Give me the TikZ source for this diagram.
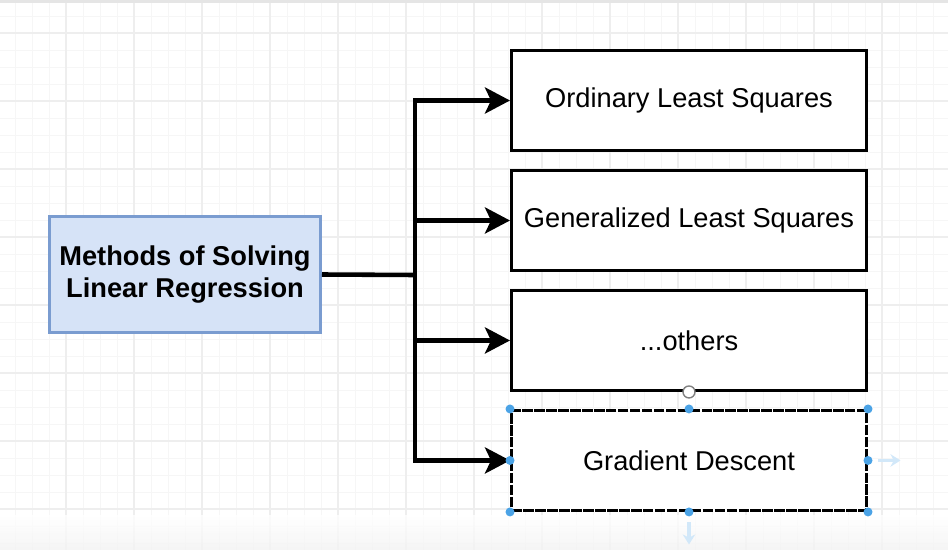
\documentclass[tikz,border=0pt]{standalone}
\usepackage{fontspec}
\setmainfont{Liberation Sans}
\usepackage{tikz}
\usetikzlibrary{positioning, arrows.meta}

\definecolor{gridminor}{HTML}{F6F6F6}
\definecolor{gridmajor}{HTML}{EEEEEE}
\definecolor{methodfill}{HTML}{D6E3F7}
\definecolor{methodline}{HTML}{7A9CD0}
\definecolor{handleblue}{HTML}{4BA3E6}

\begin{document}
\begin{tikzpicture}[
    node distance=0.34cm,
    method/.style={rectangle, draw=methodline, fill=methodfill, line width=1.7pt, minimum width=5.42cm, minimum height=2.32cm, align=center, font=\fontsize{15.5}{18.2}\selectfont\bfseries},
    box/.style={rectangle, draw, fill=white, line width=1.7pt, minimum width=7.1cm, minimum height=2.0cm, align=center, font=\fontsize{15.5}{18.2}\selectfont},
    arr/.style={-{Stealth[length=0.5cm, width=0.52cm, inset=0.12cm]}, line width=2.6pt},
    handle/.style={circle, fill=handleblue, inner sep=0pt, minimum size=0.18cm}
]
    \useasboundingbox (0,0) rectangle (18.96,-11);

    % canvas
    \begin{scope}
        \clip (0,0) rectangle (18.96,-11);
        \draw[gridminor, line width=0.4pt, shift={(1.32,-0.66)}] (-1.36,-11.56) grid[step=0.34cm] (17.68,0.68);
        \draw[gridmajor, line width=0.6pt, shift={(1.32,-0.66)}] (-1.36,-11.56) grid[step=1.36cm] (17.68,0.68);
        \fill[gray!20] (0,0) rectangle (18.96,-0.06);
        \shade[top color=white, bottom color=gray!10, opacity=0.8] (0,-10.3) rectangle (18.96,-11);
    \end{scope}

    \node[method] (methods) at (3.7,-5.49) {Methods of Solving\\Linear Regression};
    \node[box] (ols) at (13.78,-2.01) {Ordinary Least Squares};
    \node[box, below=of ols] (gls) {Generalized Least Squares};
    \node[box, below=of gls] (others) {...others};
    \node[box, below=of others, dash pattern=on 6pt off 0.8pt] (gd) {Gradient Descent};

    \coordinate (fork) at (8.3,-5.5);

    \draw[line width=2.6pt] (methods.east) -- (fork);
    \foreach \target in {ols, gls, others, gd}
        \draw[arr] (fork) |- (\target.west);

    % selection handles
    \foreach \corner in {north west, north, north east, east, south east, south, south west, west}
        \node[handle] at (gd.\corner) {};
    \draw[gray, fill=white, line width=0.8pt] (others.south) circle (0.12cm);
    \draw[handleblue!25, -{Stealth[length=0.2cm, width=0.25cm]}, line width=2pt] ([xshift=0.2cm]gd.east) -- ++(0.45,0);
    \draw[handleblue!25, -{Stealth[length=0.2cm, width=0.25cm]}, line width=2pt] ([yshift=-0.2cm]gd.south) -- ++(0,-0.45);
\end{tikzpicture}
\end{document}
